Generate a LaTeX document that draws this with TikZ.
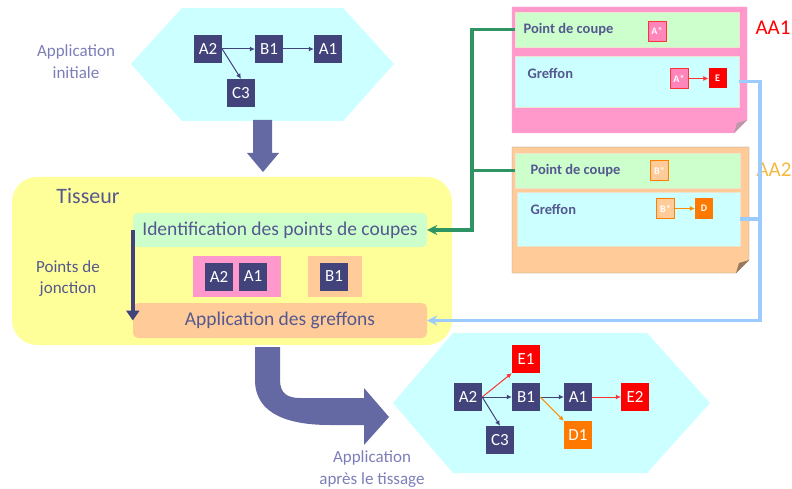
\documentclass[tikz,border=0pt]{standalone}
\usepackage{fontspec}
\setmainfont{Carlito}
\usetikzlibrary{arrows.meta,positioning,shapes.geometric}
\definecolor{appnavy}{HTML}{41437A}
\definecolor{labnavy}{HTML}{55588F}
\definecolor{lavtext}{HTML}{7C7EB8}
\definecolor{blockarrow}{HTML}{6569A3}
\definecolor{hexcyan}{HTML}{CCFFFF}
\definecolor{tisyellow}{HTML}{FFFF99}
\definecolor{cutgreen}{HTML}{CCFFCC}
\definecolor{notepeach}{HTML}{FFCC99}
\definecolor{notepink}{HTML}{FF99CC}
\definecolor{starpink}{HTML}{FF85BB}
\definecolor{stripline}{HTML}{EDE3CF}
\definecolor{linkgreen}{HTML}{2F9463}
\definecolor{linkblue}{HTML}{9CCBFF}
\definecolor{aaorange}{HTML}{F5B942}
\tikzset{
  elem/.style={fill=appnavy, text=white, minimum width=28, minimum height=28, inner sep=0pt, font=\fontsize{17}{19}\selectfont},
  redelem/.style={elem, fill=red},
  orangeelem/.style={elem, fill=orange!95!red},
  star/.style={minimum width=18, minimum height=20, inner sep=0pt, text=white, font=\fontsize{10}{11}\selectfont\bfseries},
  pinkstar/.style={star, fill=starpink, draw=red!80, line width=0.7pt},
  peachstar/.style={star, fill=notepeach, draw=orange, line width=0.7pt},
  redstar/.style={star, fill=red},
  orangestar/.style={star, fill=orange!95!red},
  phase/.style={rounded corners=5, inner sep=0pt, text=labnavy, font=\fontsize{19.5}{22}\selectfont},
  strip/.style={draw=stripline, line width=0.8pt, inner sep=0pt},
  striptext/.style={anchor=west, text=labnavy, font=\fontsize{14.5}{16}\selectfont\bfseries},
  caption/.style={align=center, text=lavtext, font=\fontsize{17}{22}\selectfont},
  edge/.style={-{Latex[length=5pt,width=5pt]}, line width=1pt, appnavy},
  rededge/.style={edge, red!80},
  orangeedge/.style={edge, orange!90!yellow},
  link/.style={-{Stealth[length=10pt,width=10pt]}, line width=3.4pt, line join=miter},
  jonction/.style={-{Triangle[length=10pt,width=13pt]}, line width=4pt, appnavy}
}
\begin{document}
\begin{tikzpicture}[x=1pt,y=-1pt]
  \useasboundingbox (0,0) rectangle (792,489);
  % application initiale
  \fill[hexcyan] (131,64) -- (182,8) -- (343,8) -- (394,64) -- (343,121) -- (182,121) -- cycle;
  \node[caption] (initlab) at (76,62) {Application\\initiale};
  \node[elem] (ia2) at (208,49) {A2};
  \node[elem] (ib1) at (269,49) {B1};
  \node[elem] (ia1) at (328,49) {A1};
  \node[elem] (ic3) at (241,93) {C3};
  \draw[edge] (ia2) -- (ib1);
  \draw[edge] (ib1) -- (ia1);
  \draw[edge] (ia2.east) -- (ic3.north);
  \fill[blockarrow] (253,120) -- (272,120) -- (272,153) -- (279,153) -- (263,172) -- (247,153) -- (253,153) -- cycle;

  % tisseur
  \node[fill=tisyellow, rounded corners=25, minimum width=440, minimum height=168] (tisseur) at (232,261) {};
  \node[text=labnavy, font=\fontsize{22}{24}\selectfont] (tislab) at (88,196) {Tisseur};
  \node[phase, fill=cutgreen, minimum width=294, minimum height=34] (ident) at (280,230) {Identification des points de coupes};
  \node[phase, fill=notepeach, minimum width=294, minimum height=35] (greffons) at (280,320.5) {Application des greffons};
  \node[fill=notepink, minimum width=88, minimum height=41] (pinkgrp) at (237,276.5) {};
  \node[elem] (ja2) at (219,276.5) {A2};
  \node[elem] (ja1) at (253,276.5) {A1};
  \node[fill=notepeach, minimum width=54, minimum height=41] (peachgrp) at (335,276.5) {};
  \node[elem] (jb1) at (334,276.5) {B1};
  \node[caption, text=labnavy, font=\fontsize{17}{21}\selectfont] (jonclab) at (68,279) {Points de\\jonction};
  \draw[jonction] (ident.west) -- (greffons.west);

  % application apres le tissage
  \fill[blockarrow] (255,347) -- (255,380) .. controls (255,415) and (290,425) .. (330,425) -- (364,425) -- (364,445) -- (389,417) -- (364,388) -- (364,398) -- (300,398) .. controls (287,398) and (280,393) .. (280,380) -- (280,347) -- cycle;
  \fill[hexcyan] (393,403) -- (453,333) -- (647,333) -- (710,403) -- (647,473) -- (453,473) -- cycle;
  \node[caption] (finlab) at (372,469) {Application\\après le tissage};
  \node[elem] (fa2) at (468,397) {A2};
  \node[elem] (fb1) at (526,397) {B1};
  \node[elem] (fa1) at (578,397) {A1};
  \node[redelem] (fe2) at (635,397) {E2};
  \node[redelem] (fe1) at (526,359) {E1};
  \node[elem] (fc3) at (500,440) {C3};
  \node[orangeelem] (fd1) at (578,435) {D1};
  \draw[rededge] (fa2.east) -- (fe1.south west);
  \draw[edge] (fa2) -- (fb1);
  \draw[edge] (fa2.east) -- (fc3.north);
  \draw[edge] (fb1) -- (fa1);
  \draw[orangeedge] (fb1.east) -- (fd1.north west);
  \draw[rededge] (fa1) -- (fe2);

  % aspect AA1
  \fill[notepink, draw=notepink!80!white] (512,7) -- (747,7) -- (747,120) -- (734,133) -- (512,133) -- cycle;
  \fill[notepink!55!black!60] (747,120) -- (734,133) -- (737,123) -- cycle;
  \node[strip, fill=cutgreen, minimum width=224, minimum height=35] (aa1cut) at (627,29.5) {};
  \node[strip, fill=hexcyan, minimum width=224, minimum height=51] (aa1graft) at (627,81.5) {};
  \node[striptext] (aa1cuttxt) at (520,29.5) {Point de coupe};
  \node[striptext] (aa1grafttxt) at (524,73) {Greffon};
  \node[pinkstar] (aa1cutstar) at (657,31) {A*};
  \node[pinkstar] (aa1star) at (679,78.5) {A*};
  \node[redstar] (aa1e) at (717.5,78.5) {E};
  \draw[rededge, line width=0.8pt] (aa1star) -- (aa1e);
  \node[text=red, font=\fontsize{21}{24}\selectfont] (aa1lab) at (773,28) {AA1};

  % aspect AA2
  \fill[notepeach, draw=gray!80] (512,147) -- (749,147) -- (749,260) -- (736,273) -- (512,273) -- cycle;
  \fill[notepeach!60!black] (749,260) -- (736,273) -- (739,263) -- cycle;
  \node[strip, fill=cutgreen, minimum width=225, minimum height=35] (aa2cut) at (627.5,170.5) {};
  \node[strip, fill=hexcyan, minimum width=223, minimum height=54] (aa2graft) at (628.5,219) {};
  \node[striptext] (aa2cuttxt) at (527,171) {Point de coupe};
  \node[striptext] (aa2grafttxt) at (527,209) {Greffon};
  \node[peachstar] (aa2cutstar) at (659.5,170.5) {B*};
  \node[peachstar] (aa2star) at (665.5,208.5) {B*};
  \node[orangestar] (aa2d) at (704,208.5) {D};
  \draw[orangeedge, line width=0.8pt] (aa2star) -- (aa2d);
  \node[text=aaorange, font=\fontsize{21}{24}\selectfont] (aa2lab) at (774,170) {AA2};

  % liens
  \coordinate (gjoin) at (472,170.5);
  \coordinate (bjoin) at (760,219);
  \draw[link, linkgreen] (aa1cut.west) -| (gjoin) |- (ident.east);
  \draw[line width=3.4pt, linkgreen] (aa2cut.west) -- (gjoin);
  \draw[link, linkblue] (aa1graft.east) -| (bjoin) |- (greffons.east);
  \draw[line width=3.4pt, linkblue] (aa2graft.east) -- (bjoin);
\end{tikzpicture}
\end{document}
